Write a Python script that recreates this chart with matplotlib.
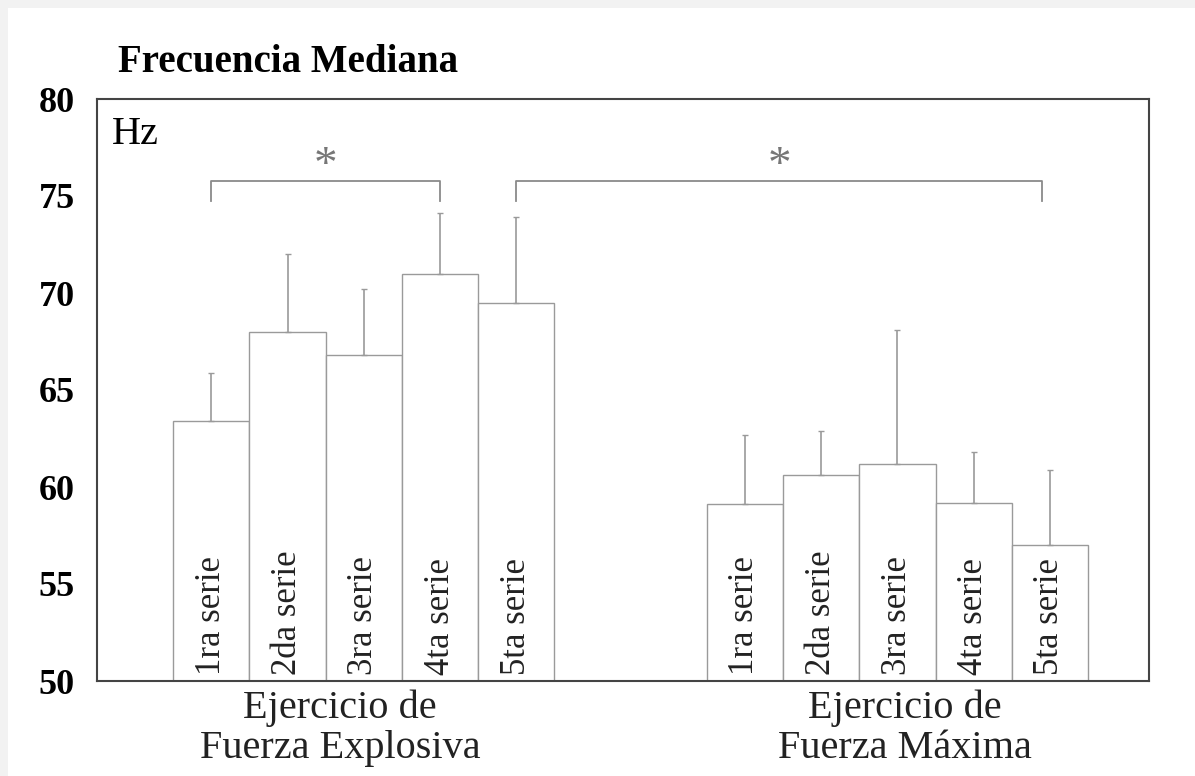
import matplotlib.pyplot as plt
from matplotlib.patches import Rectangle

# datos (Hz)
series = ["1ra serie", "2da serie", "3ra serie", "4ta serie", "5ta serie"]
explosiva = [63.4, 68.0, 66.8, 71.0, 69.5]
explosiva_err = [2.5, 4.0, 3.4, 3.1, 4.4]
maxima = [59.1, 60.6, 61.2, 59.2, 57.0]
maxima_err = [3.6, 2.3, 6.9, 2.6, 3.9]
grupos = ["Ejercicio de\nFuerza Explosiva", "Ejercicio de\nFuerza Máxima"]

pos_exp = [0, 1, 2, 3, 4]
pos_max = [7, 8, 9, 10, 11]

plt.rcParams['font.family'] = ['Liberation Serif', 'DejaVu Serif']

fig = plt.figure(figsize=(11.95, 7.76), dpi=100)
# franja gris arriba y a la izquierda
fig.patches.append(Rectangle((0, 0), 1, 1, transform=fig.transFigure,
                             facecolor='#f2f2f2', zorder=-2))
fig.patches.append(Rectangle((8 / 1195, 0), 1, 1 - 8 / 776, transform=fig.transFigure,
                             facecolor='white', zorder=-1))

ax = fig.add_axes([97 / 1195, 1 - 681 / 776, (1149 - 97) / 1195, (681 - 99) / 776])

gris = '#9a9a9a'
for pos, vals, errs in [(pos_exp, explosiva, explosiva_err), (pos_max, maxima, maxima_err)]:
    ax.bar(pos, [v - 50 for v in vals], bottom=50, width=1.0, color='white',
           edgecolor=gris, linewidth=1.0)
    ax.errorbar(pos, vals, yerr=[[0] * len(errs), errs], fmt='none', ecolor=gris,
                elinewidth=1.2, capsize=2, capthick=1)
    for p, s in zip(pos, series):
        ax.text(p, 50.3, s, rotation=90, ha='center', va='bottom', fontsize=25,
                color='#222222')

# corchetes de significancia
def corchete(x1, x2, y, ys):
    ax.plot([x1, x1, x2, x2], [y - 1.0, y, y, y - 1.0], color='#8a8a8a', lw=1.3)
    ax.text((x1 + x2) / 2, ys, "*", ha='center', va='center', fontsize=34,
            color='#777777')

corchete(pos_exp[0], pos_exp[3], 75.75, 76.5)
corchete(pos_exp[4], pos_max[4] - 0.1, 75.75, 76.5)

ax.text(0.014, 0.97, "Hz", transform=ax.transAxes, ha='left', va='top', fontsize=29)

ax.set_xlim(-1.5, 12.3)
ax.set_ylim(50, 80)
ax.set_yticks([50, 55, 60, 65, 70, 75, 80])
ax.set_yticklabels(["50", "55", "60", "65", "70", "75", "80"], fontweight='bold', fontsize=26)
ax.tick_params(axis='y', length=0, pad=16)
ax.set_xticks([])
for s in ax.spines.values():
    s.set_linewidth(1.5)
    s.set_color('#444444')

fig.text(118 / 1195, 1 - 62 / 776, "Frecuencia Mediana", fontsize=28, fontweight='bold',
         ha='left', va='center')
fig.text(340 / 1195, 1 - 728 / 776, grupos[0], fontsize=29, ha='center', va='center',
         linespacing=1.1, color='#222222')
fig.text(905 / 1195, 1 - 728 / 776, grupos[1], fontsize=29, ha='center', va='center',
         linespacing=1.1, color='#222222')

fig.savefig("out.png", dpi=100)
